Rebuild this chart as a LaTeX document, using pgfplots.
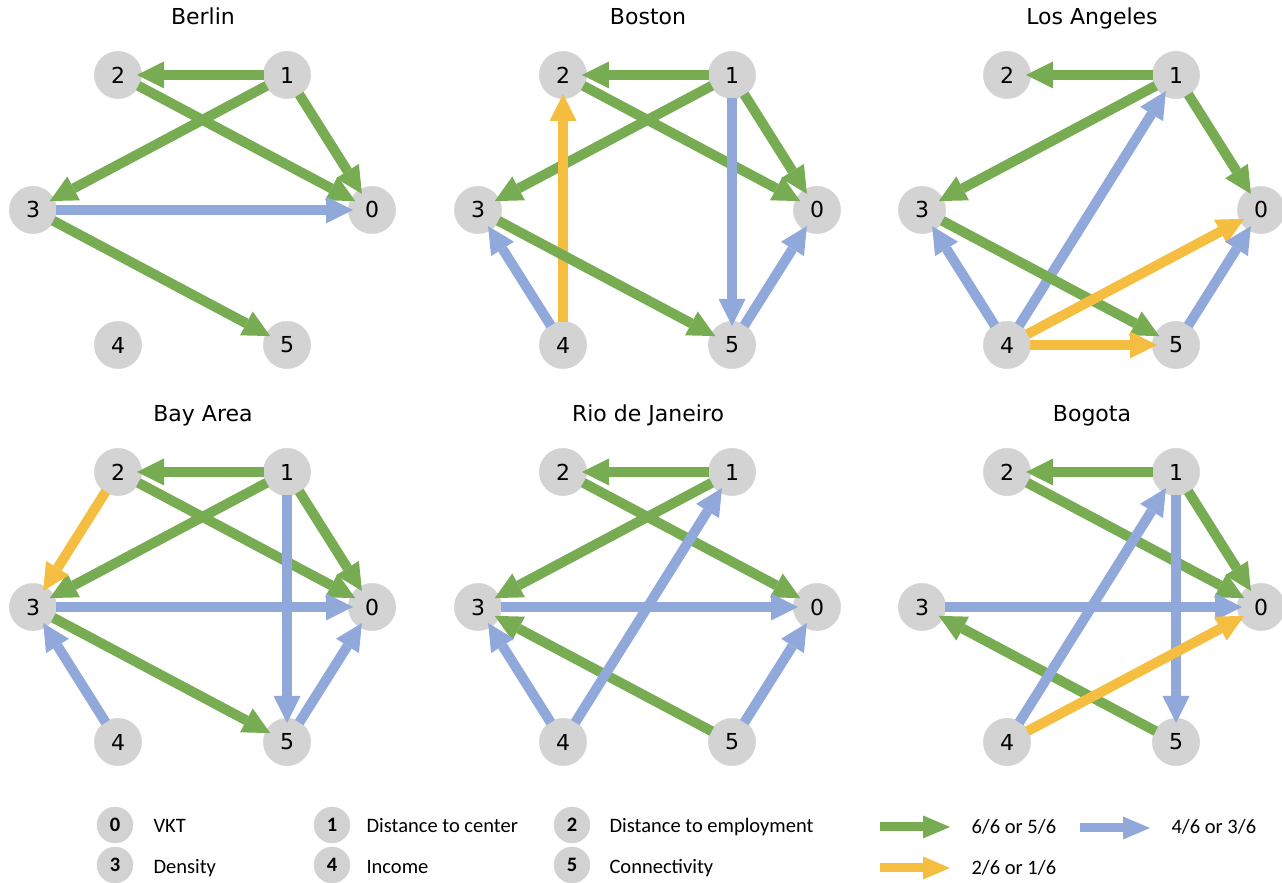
\documentclass[border=0pt]{standalone}
\usepackage{pgfplots}
\pgfplotsset{compat=1.18}
\usetikzlibrary{arrows.meta}
\usepackage{fontspec}
\setmainfont{DejaVu Sans}
\newfontfamily\legfont{Carlito}
\definecolor{cgreen}{HTML}{78AC52}
\definecolor{cblue}{HTML}{91A9DA}
\definecolor{cyellow}{HTML}{F5BE41}
\definecolor{ngray}{HTML}{D3D3D3}
\definecolor{lgray}{HTML}{D2D2D2}
\pgfplotsset{
  panel/.style={scale only axis, width=420pt, height=390pt, xmin=0, xmax=420, ymin=0, ymax=390,
    y dir=reverse, hide axis, clip=false, anchor=north west, set layers},
  edge/.style={draw=#1, line width=10pt, mark=none, -{Triangle[length=27pt,width=27pt,line width=0pt]},
    shorten >=19pt, shorten <=23pt},
  ge/.style={edge=cgreen}, be/.style={edge=cblue}, ye/.style={edge=cyellow},
  legarrow/.style={draw=#1, line width=9pt, mark=none, -{Triangle[length=27pt,width=23pt,line width=0pt]}},
}
\newcommand\nlab{\fontsize{22}{24}\selectfont}
\newcommand\drawnodes{%
  \addplot[on layer=axis background, mark layer=axis background, only marks, mark=*, mark size=23.7pt,
    mark options={draw=ngray, fill=ngray}]
    coordinates {(372,210)(287,75)(118,75)(33,210)(118,345)(287,345)};%
  \begin{pgfonlayer}{axis foreground}%
  \node[font=\nlab] at (axis cs:372,210) {0};%
  \node[font=\nlab] at (axis cs:287,75) {1};%
  \node[font=\nlab] at (axis cs:118,75) {2};%
  \node[font=\nlab] at (axis cs:33,210) {3};%
  \node[font=\nlab] at (axis cs:118,345) {4};%
  \node[font=\nlab] at (axis cs:287,345) {5};%
  \end{pgfonlayer}%
}
\newcommand\paneltitle[1]{\node[anchor=base, font=\fontsize{22}{26}\selectfont] at (axis cs:203,25) {#1};}
\begin{document}
\begin{tikzpicture}
% ---------- Berlin ----------
\begin{axis}[panel, at={(0pt,883pt)}]
\drawnodes
\paneltitle{Berlin}
\addplot[ge] coordinates {(287,75)(118,75)};
\addplot[ge] coordinates {(118,75)(372,210)};
\addplot[ge] coordinates {(287,75)(33,210)};
\addplot[ge] coordinates {(287,75)(372,210)};
\addplot[be] coordinates {(33,210)(372,210)};
\addplot[ge] coordinates {(33,210)(287,345)};
\end{axis}
% ---------- Boston ----------
\begin{axis}[panel, at={(445pt,883pt)}]
\drawnodes
\paneltitle{Boston}
\addplot[ge] coordinates {(287,75)(118,75)};
\addplot[ge] coordinates {(118,75)(372,210)};
\addplot[ge] coordinates {(287,75)(33,210)};
\addplot[ge] coordinates {(287,75)(372,210)};
\addplot[be] coordinates {(287,75)(287,345)};
\addplot[be] coordinates {(118,345)(33,210)};
\addplot[ye] coordinates {(118,345)(118,75)};
\addplot[ge] coordinates {(33,210)(287,345)};
\addplot[be] coordinates {(287,345)(372,210)};
\end{axis}
% ---------- Los Angeles ----------
\begin{axis}[panel, at={(889pt,883pt)}]
\drawnodes
\paneltitle{Los Angeles}
\addplot[ge] coordinates {(287,75)(118,75)};
\addplot[ge] coordinates {(287,75)(33,210)};
\addplot[ge] coordinates {(287,75)(372,210)};
\addplot[be] coordinates {(118,345)(287,75)};
\addplot[be] coordinates {(118,345)(33,210)};
\addplot[ge] coordinates {(33,210)(287,345)};
\addplot[ye] coordinates {(118,345)(372,210)};
\addplot[ye] coordinates {(118,345)(287,345)};
\addplot[be] coordinates {(287,345)(372,210)};
\end{axis}
% ---------- Bay Area ----------
\begin{axis}[panel, at={(0pt,486pt)}]
\drawnodes
\paneltitle{Bay Area}
\addplot[ge] coordinates {(287,75)(118,75)};
\addplot[ge] coordinates {(118,75)(372,210)};
\addplot[ge] coordinates {(287,75)(33,210)};
\addplot[ge] coordinates {(287,75)(372,210)};
\addplot[ye] coordinates {(118,75)(33,210)};
\addplot[be] coordinates {(33,210)(372,210)};
\addplot[be] coordinates {(287,75)(287,345)};
\addplot[ge] coordinates {(33,210)(287,345)};
\addplot[be] coordinates {(118,345)(33,210)};
\addplot[be] coordinates {(287,345)(372,210)};
\end{axis}
% ---------- Rio de Janeiro ----------
\begin{axis}[panel, at={(445pt,486pt)}]
\drawnodes
\paneltitle{Rio de Janeiro}
\addplot[ge] coordinates {(287,75)(118,75)};
\addplot[ge] coordinates {(118,75)(372,210)};
\addplot[ge] coordinates {(287,75)(33,210)};
\addplot[be] coordinates {(33,210)(372,210)};
\addplot[ge] coordinates {(287,345)(33,210)};
\addplot[be] coordinates {(118,345)(33,210)};
\addplot[be] coordinates {(118,345)(287,75)};
\addplot[be] coordinates {(287,345)(372,210)};
\end{axis}
% ---------- Bogota ----------
\begin{axis}[panel, at={(889pt,486pt)}]
\drawnodes
\paneltitle{Bogota}
\addplot[ge] coordinates {(287,75)(118,75)};
\addplot[ge] coordinates {(118,75)(372,210)};
\addplot[ge] coordinates {(287,75)(372,210)};
\addplot[be] coordinates {(33,210)(372,210)};
\addplot[ge] coordinates {(287,345)(33,210)};
\addplot[be] coordinates {(118,345)(287,75)};
\addplot[be] coordinates {(287,75)(287,345)};
\addplot[ye] coordinates {(118,345)(372,210)};
\end{axis}
% ---------- Legend ----------
\begin{axis}[scale only axis, width=1282pt, height=883pt, xmin=0, xmax=1282, ymin=0, ymax=883,
  y dir=reverse, hide axis, clip=false, at={(0pt,0pt)}, anchor=south west, set layers]
\addplot[on layer=axis background, mark layer=axis background, only marks, mark=*, mark size=18pt,
  mark options={draw=lgray, fill=lgray}]
  coordinates {(115,825)(332,825)(572,825)(115,865)(332,865)(572,865)};
\addplot[legarrow=cgreen] coordinates {(880,827)(950,827)};
\addplot[legarrow=cyellow] coordinates {(880,868)(950,868)};
\addplot[legarrow=cblue] coordinates {(1080,828)(1150,828)};
\begin{pgfonlayer}{axis foreground}
\begin{scope}[every node/.style={font=\legfont\fontsize{20.5}{24}\selectfont}]
\node[anchor=base, font=\legfont\bfseries\fontsize{20.5}{24}\selectfont] at (axis cs:115,832) {0};
\node[anchor=base, font=\legfont\bfseries\fontsize{20.5}{24}\selectfont] at (axis cs:332,832) {1};
\node[anchor=base, font=\legfont\bfseries\fontsize{20.5}{24}\selectfont] at (axis cs:572,832) {2};
\node[anchor=base, font=\legfont\bfseries\fontsize{20.5}{24}\selectfont] at (axis cs:115,872) {3};
\node[anchor=base, font=\legfont\bfseries\fontsize{20.5}{24}\selectfont] at (axis cs:332,872) {4};
\node[anchor=base, font=\legfont\bfseries\fontsize{20.5}{24}\selectfont] at (axis cs:572,872) {5};
\node[anchor=base west] at (axis cs:150,833) {VKT};
\node[anchor=base west] at (axis cs:363,833) {Distance to center};
\node[anchor=base west] at (axis cs:606,833) {Distance to employment};
\node[anchor=base west] at (axis cs:150,874) {Density};
\node[anchor=base west] at (axis cs:363,874) {Income};
\node[anchor=base west] at (axis cs:606,874) {Connectivity};
\node[anchor=base west] at (axis cs:968,834) {6/6 or 5/6};
\node[anchor=base west] at (axis cs:968,875) {2/6 or 1/6};
\node[anchor=base west] at (axis cs:1168,834) {4/6 or 3/6};
\end{scope}
\end{pgfonlayer}
\end{axis}
\pgfresetboundingbox
\path[use as bounding box] (0pt,0pt) rectangle (1282pt,883pt);
\end{tikzpicture}
\end{document}
